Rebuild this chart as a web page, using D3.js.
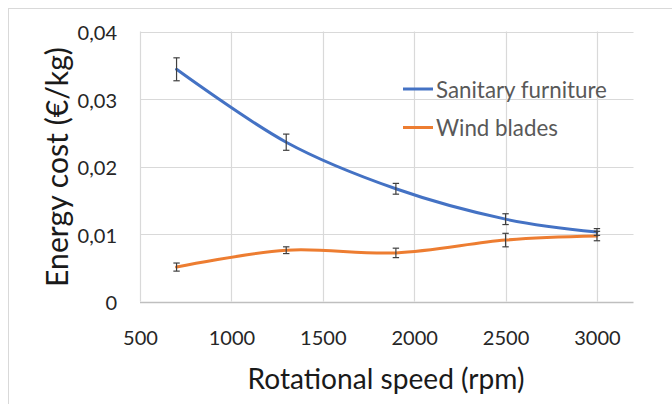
<!DOCTYPE html>
<html><head><meta charset="utf-8">
<script src="https://cdn.jsdelivr.net/npm/d3@7"></script>
<style>body{margin:0;background:#fff}svg{display:block}</style>
</head><body>
<svg id="c" width="672" height="404"></svg>
<script>
const speeds = [700, 1300, 1900, 2500, 3000];
const sanitary = [0.0344, 0.0236, 0.0167, 0.0122, 0.0103];
const sanitaryErr = [0.0017, 0.0012, 0.0008, 0.0008, 0.0005];
const wind = [0.0051, 0.0076, 0.0072, 0.0091, 0.0097];
const windErr = [0.0006, 0.0005, 0.0007, 0.0010, 0.0007];
const xTicks = [500, 1000, 1500, 2000, 2500, 3000];
const yTicks = [0, 0.01, 0.02, 0.03, 0.04];
const yTickLabels = ["0", "0,01", "0,02", "0,03", "0,04"];
const seriesNames = ["Sanitary furniture", "Wind blades"];
const colors = ["#4472C4", "#ED7D31"];

const svg = d3.select("#c");
const FONT = "Lato, 'Open Sans', sans-serif";
const x = d3.scaleLinear().domain([500, 3200]).range([140, 633.5]);
const y = d3.scaleLinear().domain([0, 0.04]).range([301.5, 31.5]);

function fitText(sel, w) {
  sel.each(function(){
    const n = this, cur = parseFloat(d3.select(n).attr("font-size"));
    const len = n.getComputedTextLength();
    if (len > 0) d3.select(n).attr("font-size", (cur * w / len).toFixed(2));
  });
}

// outer border
svg.append("rect").attr("x", 8.5).attr("y", 8.5).attr("width", 700).attr("height", 500)
  .attr("fill", "none").attr("stroke", "#d9d9d9").attr("stroke-width", 1);

// gridlines
const g = svg.append("g");
g.selectAll(".hg").data(yTicks.filter(d => d > 0)).join("line")
  .attr("x1", x(500)).attr("x2", x(3200))
  .attr("y1", d => Math.round(y(d)) + 0.5).attr("y2", d => Math.round(y(d)) + 0.5)
  .attr("stroke", "#d9d9d9").attr("stroke-width", 1.2);
g.selectAll(".vg").data(xTicks).join("line")
  .attr("x1", d => Math.round(x(d)) + 0.5).attr("x2", d => Math.round(x(d)) + 0.5)
  .attr("y1", y(0.04)).attr("y2", y(0))
  .attr("stroke", "#d9d9d9").attr("stroke-width", 1.2);
// x axis line
g.append("line").attr("x1", x(500)).attr("x2", x(3200))
  .attr("y1", Math.round(y(0)) + 0.5).attr("y2", Math.round(y(0)) + 0.5)
  .attr("stroke", "#bfbfbf").attr("stroke-width", 1.5);

// axes via d3 (labels only)
const xAxis = svg.append("g").attr("transform", `translate(0,${y(0)})`)
  .call(d3.axisBottom(x).tickValues(xTicks).tickSize(0).tickPadding(0).tickFormat(d3.format("d")));
xAxis.select(".domain").remove();
xAxis.selectAll("text").attr("font-family", FONT).attr("font-size", 20).attr("fill", "#262626")
  .attr("dy", null).attr("y", 337 - y(0)).attr("dominant-baseline", "central");
fitText(xAxis.selectAll("text").filter(d => d === 1000), 46.5);
const xfs = xAxis.selectAll("text").filter(d => d === 1000).attr("font-size");
xAxis.selectAll("text").attr("font-size", xfs);

const yAxis = svg.append("g").attr("transform", `translate(117,0)`)
  .call(d3.axisLeft(y).tickValues(yTicks).tickSize(0).tickPadding(0)
    .tickFormat((d, i) => yTickLabels[i]));
yAxis.select(".domain").remove();
yAxis.selectAll("text").attr("font-family", FONT).attr("font-size", xfs).attr("fill", "#262626")
  .attr("dy", null).attr("x", 0).attr("dominant-baseline", "central");

// axis titles
const xt = svg.append("text").attr("x", 386).attr("y", 378).attr("text-anchor", "middle")
  .attr("dominant-baseline", "central").attr("font-family", FONT).attr("font-size", 26)
  .attr("fill", "#1a1a1a").text("Rotational speed (rpm)");
fitText(xt, 277);
const yt = svg.append("text").attr("transform", "translate(56,167) rotate(-90)")
  .attr("text-anchor", "middle").attr("dominant-baseline", "central")
  .attr("font-family", FONT).attr("font-size", 26).attr("fill", "#1a1a1a")
  .text("Energy cost (€/kg)");
fitText(yt, 240);

// lines
const line = d3.line().x(d => x(d[0])).y(d => y(d[1])).curve(d3.curveCardinal.tension(0));
const series = [sanitary, wind];
const errs = [sanitaryErr, windErr];
series.forEach((vals, si) => {
  const pts = speeds.map((s, i) => [s, vals[i]]);
  svg.append("path").attr("d", line(pts)).attr("fill", "none")
    .attr("stroke", colors[si]).attr("stroke-width", 3).attr("stroke-linecap", "round");
});
// error bars
series.forEach((vals, si) => {
  const eg = svg.append("g").attr("stroke", "#404040").attr("stroke-width", 1.2);
  speeds.forEach((s, i) => {
    const cx = x(s), t = y(vals[i] + errs[si][i]), b = y(vals[i] - errs[si][i]);
    eg.append("line").attr("x1", cx).attr("x2", cx).attr("y1", t).attr("y2", b);
    eg.append("line").attr("x1", cx - 3.2).attr("x2", cx + 3.2).attr("y1", t).attr("y2", t);
    eg.append("line").attr("x1", cx - 3.2).attr("x2", cx + 3.2).attr("y1", b).attr("y2", b);
  });
});

// legend
const legY = [89, 127.5];
seriesNames.forEach((nm, i) => {
  svg.append("line").attr("x1", 403).attr("x2", 433).attr("y1", legY[i]).attr("y2", legY[i])
    .attr("stroke", colors[i]).attr("stroke-width", 3);
  const t = svg.append("text").attr("x", 436).attr("y", legY[i]).attr("dominant-baseline", "central")
    .attr("font-family", FONT).attr("font-size", 20).attr("fill", "#595959").text(nm);
  if (i === 0) fitText(t, 171);
});
const lfs = svg.selectAll("text").filter(function(){return d3.select(this).text()==="Sanitary furniture";}).attr("font-size");
svg.selectAll("text").filter(function(){return d3.select(this).text()==="Wind blades";}).attr("font-size", lfs);
</script>
</body></html>
